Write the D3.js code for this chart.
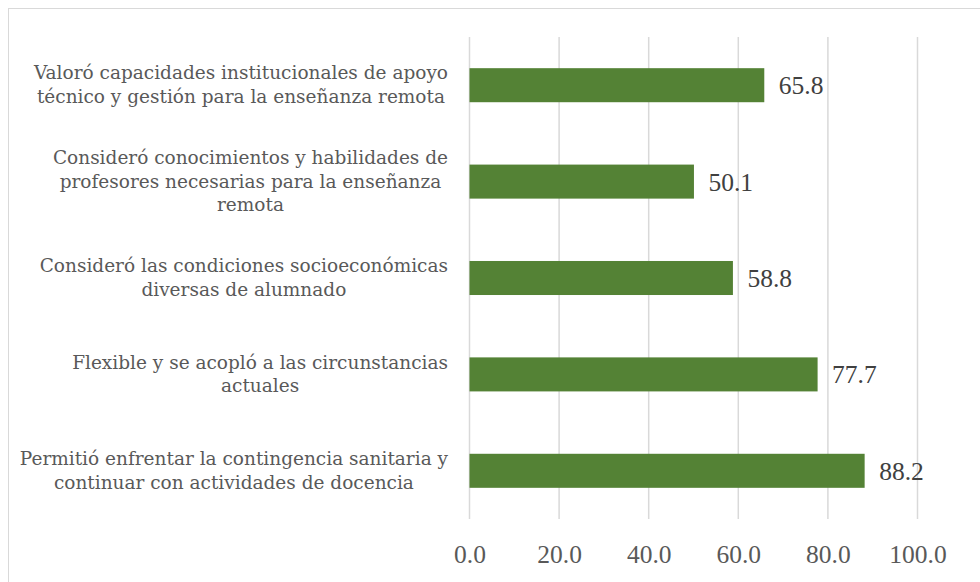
<html>
<head>
  <script src="https://d3js.org/d3.v7.min.js"></script>
  <style>
    body { margin: 0; background: #fff; }
    text { font-family: "DejaVu Serif", serif; }
    .num { font-family: "Liberation Serif", serif; }
  </style>
</head>
<body>
  <svg width="980" height="582"></svg>
  <script>
    // data
    let categories = [
      "Valoró capacidades institucionales de apoyo técnico y gestión para la enseñanza remota",
      "Consideró conocimientos y habilidades de profesores necesarias para la enseñanza remota",
      "Consideró las condiciones socioeconómicas diversas de alumnado",
      "Flexible y se acopló a las circunstancias actuales",
      "Permitió enfrentar la contingencia sanitaria y continuar con actividades de docencia"
    ];
    let values = [65.8, 50.1, 58.8, 77.7, 88.2];
    let xTicks = [0, 20, 40, 60, 80, 100];

    let svg = d3.select("svg");

    // chart border (only top and left edges are in view)
    svg.append("rect")
      .attr("x", 8.5).attr("y", 8.5)
      .attr("width", 1000).attr("height", 1000)
      .style("fill", "none")
      .style("stroke", "#d9d9d9")
      .style("stroke-width", 1);

    let x = d3.scaleLinear().domain([0, 100]).range([469.5, 917.5]);
    let y = d3.scaleBand().domain(categories).range([37, 519])
      .paddingInner(0.647).paddingOuter(0.3235);

    // gridlines
    svg.append("g").selectAll("line")
      .data(xTicks)
      .join("line")
      .attr("x1", d => x(d)).attr("x2", d => x(d))
      .attr("y1", 37).attr("y2", 519)
      .style("stroke", "#d9d9d9")
      .style("stroke-width", 1.5);

    // x axis, labels only
    let axis = svg.append("g")
      .attr("transform", "translate(0,519)")
      .call(d3.axisBottom(x).tickValues(xTicks).tickFormat(d3.format(".1f")).tickSize(0).tickPadding(26));
    axis.select(".domain").remove();
    axis.attr("font-family", null);
    axis.selectAll("text")
      .attr("class", "num")
      .style("font-size", "25.5px")
      .style("fill", "#595959");

    // bars
    svg.append("g").selectAll("rect")
      .data(values)
      .join("rect")
      .attr("x", x(0))
      .attr("y", (d, i) => y(categories[i]))
      .attr("width", d => x(d) - x(0))
      .attr("height", y.bandwidth())
      .style("fill", "#548235");

    // value labels
    svg.append("g").selectAll("text")
      .data(values)
      .join("text")
      .attr("class", "num")
      .attr("x", d => x(d) + 14.5)
      .attr("y", (d, i) => y(categories[i]) + y.bandwidth() / 2)
      .attr("dy", "0.35em")
      .style("font-size", "25.5px")
      .style("fill", "#404040")
      .text(d => d.toFixed(1));

    // category labels, wrapped and centred in a right-aligned block
    let labelSize = 18.5, lineH = 23.5, maxW = 440, rightEdge = 448;
    categories.forEach(c => {
      let g = svg.append("g");
      let words = c.split(" ");
      let lines = [];
      let cur = "";
      let probe = g.append("text").style("font-size", labelSize + "px");
      words.forEach(w => {
        let t = cur ? cur + " " + w : w;
        probe.text(t);
        if (probe.node().getComputedTextLength() > maxW && cur) {
          lines.push(cur);
          cur = w;
        } else {
          cur = t;
        }
      });
      lines.push(cur);
      let widths = lines.map(l => { probe.text(l); return probe.node().getComputedTextLength(); });
      probe.remove();
      let blockW = d3.max(widths);
      let cy = y(c) + y.bandwidth() / 2;
      let first = cy + 6 - (lines.length - 1) * lineH / 2;
      g.selectAll("text")
        .data(lines)
        .join("text")
        .attr("x", rightEdge - blockW / 2)
        .attr("y", (d, j) => first + j * lineH)
        .attr("text-anchor", "middle")
        .style("font-size", labelSize + "px")
        .style("fill", "#595959")
        .text(d => d);
    });
  </script>
</body>
</html>
